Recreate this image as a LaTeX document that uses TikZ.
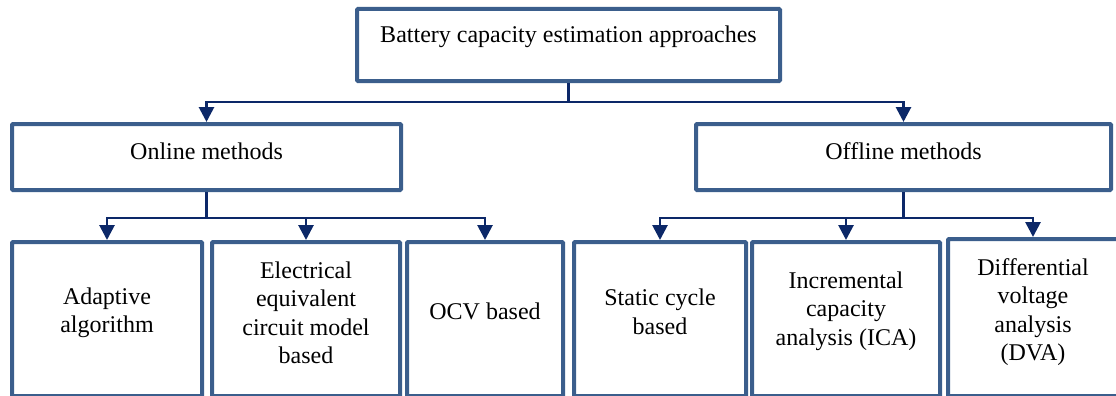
\documentclass[tikz,border=0pt]{standalone}
\usepackage{fontspec}
\setmainfont{Liberation Serif}
\usetikzlibrary{arrows.meta}

\definecolor{boxblue}{HTML}{3B5E8C}
\definecolor{linknavy}{HTML}{0C2868}

\begin{document}
\begin{tikzpicture}[
  x=1pt, y=-1pt,
  >={Triangle[width=15pt,length=15pt]},
  box/.style={draw=boxblue, line width=4pt, rounded corners=1pt, inner sep=0pt},
  link/.style={draw=linknavy, line width=2.8pt},
  arr/.style={->, draw=linknavy, line width=2.8pt},
  lab/.style={align=center, inner sep=0pt, font=\fontsize{24}{28.5}\selectfont},
]
\useasboundingbox (0,0) rectangle (1116,396);

% ------------------------------------------------------------------
% root and the two families
% ------------------------------------------------------------------
\node[box, minimum width=423, minimum height=72] (root)    at (568.5,45) {};
\node[box, minimum width=389, minimum height=66] (online)  at (206.5,157) {};
\node[box, minimum width=415, minimum height=66] (offline) at (903.5,157) {};

\node[lab] (roottext)    at (568.5,37)  {Battery capacity estimation approaches};
\node[lab] (onlinetext)  at (206.5,151) {Online methods};
\node[lab] (offlinetext) at (903.5,151) {Offline methods};

% ------------------------------------------------------------------
% leaves: online methods
% ------------------------------------------------------------------
\node[box, minimum width=190, minimum height=154] (adapt) at (107,319) {};
\node[box, minimum width=188, minimum height=154] (elec)  at (306,319) {};
\node[box, minimum width=156, minimum height=154] (ocv)   at (485,319) {};

\node[lab] (adapttext) at (107,313) {Adaptive\\algorithm};
\node[lab] (electext)  at (306,313) {Electrical\\equivalent\\circuit model\\based};
\node[lab] (ocvtext)   at (485,311) {OCV based};

% ------------------------------------------------------------------
% leaves: offline methods
% ------------------------------------------------------------------
\node[box, minimum width=172, minimum height=154] (static) at (660,319) {};
\node[box, minimum width=188, minimum height=154] (incr)   at (846,319) {};
\node[box, minimum width=170, minimum height=157] (dva)    at (1033,317.5) {};

\node[lab] (statictext) at (660,312)  {Static cycle\\based};
\node[lab] (incrtext)   at (846,311)  {Incremental\\capacity\\analysis (ICA)};
\node[lab] (dvatext)    at (1033,312) {Differential\\voltage\\analysis\\(DVA)};

% ------------------------------------------------------------------
% connectors
% ------------------------------------------------------------------
\coordinate (rootsplit)    at (568.5,102);
\coordinate (onlinesplit)  at (206.5,218);
\coordinate (offlinesplit) at (903.5,218);

\draw[link] (root.south) -- (rootsplit);
\draw[arr] (rootsplit) -| (online.north);
\draw[arr] (rootsplit) -| (offline.north);

\draw[link] (online.south) -- (onlinesplit);
\foreach \leaf in {adapt, elec, ocv}
  \draw[arr] (onlinesplit) -| (\leaf.north);

\draw[link] (offline.south) -- (offlinesplit);
\foreach \leaf in {static, incr, dva}
  \draw[arr] (offlinesplit) -| (\leaf.north);
\end{tikzpicture}
\end{document}
